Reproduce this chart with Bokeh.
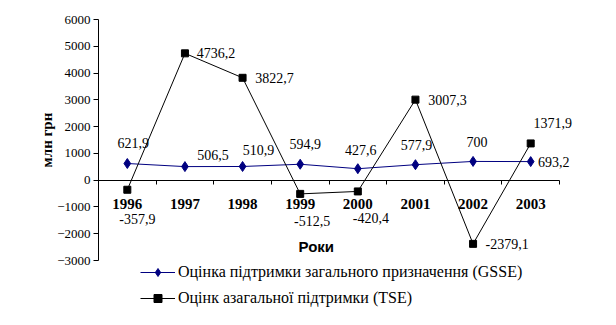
from bokeh.plotting import figure
from bokeh.models import (Range1d, FixedTicker, LinearAxis, Legend, LegendItem,
                          Label, Title, ColumnDataSource)
from bokeh.embed import file_html
from bokeh.resources import INLINE
from bokeh.core.properties import value

# ---- data ----
years = ["1996", "1997", "1998", "1999", "2000", "2001", "2002", "2003"]
gsse = [621.9, 506.5, 510.9, 594.9, 427.6, 577.9, 700.0, 693.2]
tse = [-357.9, 4736.2, 3822.7, -512.5, -420.4, 3007.3, -2379.1, 1371.9]
y_ticks = [-3000, -2000, -1000, 0, 1000, 2000, 3000, 4000, 5000, 6000]
gsse_name = "Оцінка підтримки загального призначення (GSSE)"
tse_name = "Оцінк азагальної підтримки (TSE)"
x_title = "Роки"
y_title = "млн грн"

# ---- label offsets (screen px, style only) ----
gsse_dx = [6, 28, 16, 5, 3, 1, 4, 23]
gsse_dy = [-21, -12, -16, -20, -19, -20, -19, 0]
tse_dx = [10, 31, 32, 12, 13, 32, 34, 22]
tse_dy = [29, 0, 0, 27, 27, 0, 0, -20]


def fmt(v):
    if float(v).is_integer():
        return str(int(v))
    return f"{v:.1f}".replace(".", ",")


n = len(years)
xs = [i + 0.5 for i in range(n)]
src_g = ColumnDataSource(dict(x=xs, y=gsse, t=[fmt(v) for v in gsse], dx=gsse_dx, dy=gsse_dy))
src_t = ColumnDataSource(dict(x=xs, y=tse, t=[fmt(v) for v in tse], dx=tse_dx, dy=tse_dy))

SERIF = "Liberation Serif"

# plot area: extra room right and below (for labels / legend) beyond the axis bounds
PX_PER_UNIT_Y = 241.0 / (y_ticks[-1] - y_ticks[0])
y_low = y_ticks[-1] - (325 - 19) / PX_PER_UNIT_Y
x_high = n * (616 - 98) / 461.0

p = figure(width=616, height=325, output_backend="svg", toolbar_location=None,
           x_range=Range1d(0, x_high), y_range=Range1d(y_low, y_ticks[-1]),
           x_axis_location=None,
           min_border_left=98, min_border_right=0, min_border_top=19, min_border_bottom=0)
p.outline_line_color = None
p.xgrid.visible = False
p.ygrid.visible = False
p.background_fill_color = "white"
p.border_fill_color = "white"

# y axis
ya = p.yaxis[0]
ya.ticker = FixedTicker(ticks=y_ticks)
ya.bounds = (y_ticks[0], y_ticks[-1])
ya.minor_tick_line_color = None
ya.major_tick_in = 0
ya.major_tick_out = 5
ya.axis_line_color = "black"
ya.major_tick_line_color = "black"
ya.major_label_text_font = SERIF
ya.major_label_text_font_size = "13px"
ya.major_label_text_color = "black"
ya.major_label_standoff = 3

# y title (left side, shifted up to centre on the axis bounds)
p.add_layout(Title(text=y_title, align="left", offset=158, standoff=0,
                   text_font=SERIF, text_font_style="bold", text_font_size="15px",
                   text_color="black"), "left")
# blank spacer title further out, pushes the y title towards the axis
p.add_layout(Title(text=" ", standoff=0, text_font=SERIF, text_font_size="11px",
                   text_color="white"), "left")

# x axis at y=0: tick marks between categories
xa_ticks = LinearAxis(fixed_location=0, ticker=FixedTicker(ticks=list(range(1, n + 1))))
xa_ticks.bounds = (0, n)
xa_ticks.major_label_text_color = None
xa_ticks.minor_tick_line_color = None
xa_ticks.major_tick_in = 0
xa_ticks.major_tick_out = 4
xa_ticks.axis_line_color = "black"
xa_ticks.major_tick_line_color = "black"
p.add_layout(xa_ticks, "below")

# x axis category labels
xa_lab = LinearAxis(fixed_location=0, ticker=FixedTicker(ticks=xs))
xa_lab.major_label_overrides = {x: y for x, y in zip(xs, years)}
xa_lab.minor_tick_line_color = None
xa_lab.major_tick_line_color = None
xa_lab.axis_line_color = None
xa_lab.major_label_standoff = 13
xa_lab.major_label_text_font = SERIF
xa_lab.major_label_text_font_style = "bold"
xa_lab.major_label_text_font_size = "15px"
xa_lab.major_label_text_color = "black"
p.add_layout(xa_lab, "below")

# series
NAVY = "#000080"
gl = p.line("x", "y", source=src_g, line_color=NAVY, line_width=1)
gs = p.scatter("x", "y", source=src_g, marker="diamond", size=10, fill_color=NAVY, line_color=NAVY)
tl = p.line("x", "y", source=src_t, line_color="black", line_width=1)
ts = p.scatter("x", "y", source=src_t, marker="square", size=7, fill_color="black", line_color="black")

for s in (src_g, src_t):
    p.text("x", "y", text="t", source=s, x_offset="dx", y_offset="dy",
           text_align="center", text_baseline="middle",
           text_font=value(SERIF), text_font_size="14px", text_color="black")

# x title
p.add_layout(Label(x=3.78, y=-2465, text=x_title, text_align="center", text_baseline="middle",
                   text_font="Liberation Sans", text_font_style="bold",
                   text_font_size="15px", text_color="black"))

legend = Legend(items=[LegendItem(label=gsse_name, renderers=[gl, gs]),
                       LegendItem(label=tse_name, renderers=[tl, ts])],
                location=(42, 17), orientation="vertical",
                glyph_width=35, glyph_height=20, label_height=20, spacing=6,
                label_standoff=3, padding=0, margin=0,
                border_line_color=None, background_fill_alpha=0,
                label_text_font=SERIF, label_text_font_size="16px",
                label_text_color="black", label_text_baseline="middle")
p.add_layout(legend)

open("out.html", "w").write(file_html(p, INLINE))
